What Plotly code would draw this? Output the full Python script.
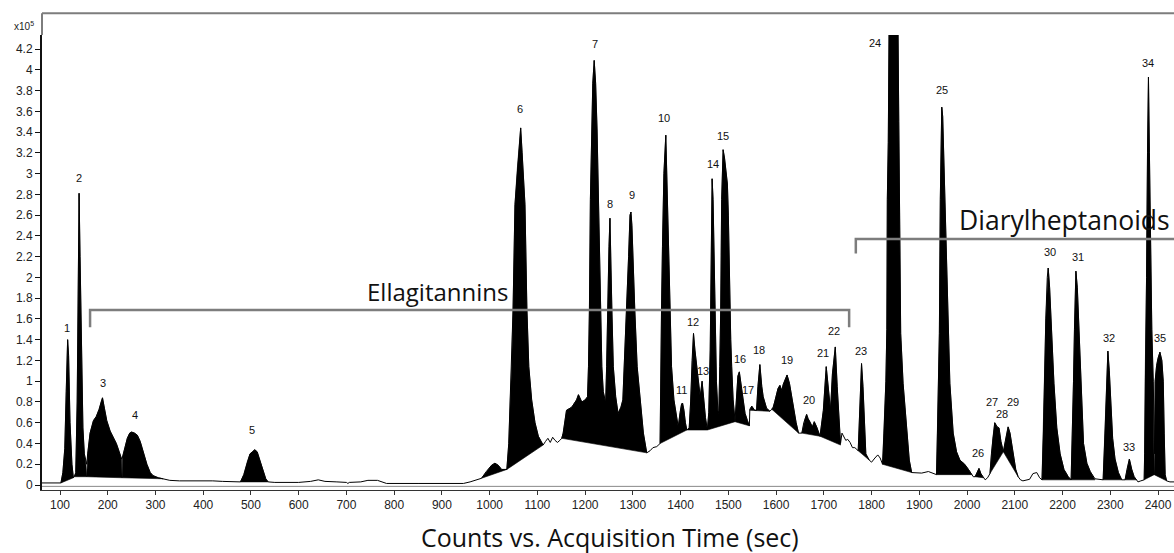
import plotly.graph_objects as go

# ---------------- data (counts in units of 1e5) ----------------
time_s = [
    62, 100, 102, 106, 110, 113, 116, 118, 121, 125, 128, 130, 133, 136, 138, 140, 142, 145, 148, 151, 154, 156,
    158, 163, 170, 176, 182, 186, 189, 193, 198, 205, 212, 218, 224, 229, 231, 236, 241, 246, 250, 256, 262, 268,
    275, 282, 289, 295, 306, 316, 330, 350, 380, 390, 396, 420, 440, 460, 478, 485, 492, 498, 503, 508, 513, 520,
    526, 531, 536, 550, 600, 625, 641, 655, 680, 700, 703, 706, 730, 745, 765, 775, 784, 850, 945, 959, 975, 983,
    993, 1004, 1011, 1018, 1025, 1030, 1036, 1040, 1043, 1046, 1049, 1053, 1058, 1062, 1065, 1068, 1070, 1074,
    1078, 1082, 1088, 1095, 1102, 1112, 1117, 1122, 1127, 1132, 1137, 1142, 1147, 1151, 1154, 1161, 1172, 1182,
    1186, 1193, 1200, 1205, 1207, 1209, 1211, 1214, 1216, 1219, 1222, 1225, 1228, 1232, 1235, 1238, 1243, 1245,
    1247, 1250, 1252, 1254, 1256, 1259, 1264, 1269, 1275, 1279, 1282, 1287, 1291, 1294, 1296, 1298, 1301, 1304,
    1309, 1315, 1322, 1329, 1336, 1342, 1350, 1357, 1358, 1360, 1362, 1365, 1369, 1371, 1372, 1375, 1378, 1381,
    1386, 1392, 1395, 1399, 1402, 1404, 1407, 1410, 1413, 1418, 1421, 1424, 1427, 1430, 1434, 1439, 1441, 1445,
    1448, 1452, 1456, 1459, 1462, 1464, 1466, 1468, 1470, 1472, 1475, 1478, 1480, 1482, 1484, 1486, 1488, 1489,
    1492, 1495, 1498, 1500, 1502, 1505, 1507, 1510, 1514, 1517, 1520, 1523, 1526, 1530, 1535, 1540, 1544, 1545,
    1549, 1555, 1559, 1562, 1566, 1570, 1573, 1580, 1587, 1591, 1594, 1597, 1604, 1608, 1612, 1615, 1623, 1628,
    1636, 1642, 1647, 1654, 1658, 1661, 1664, 1667, 1671, 1676, 1680, 1685, 1692, 1699, 1705, 1709, 1714, 1718,
    1724, 1728, 1731, 1735, 1738, 1741, 1746, 1750, 1755, 1760, 1765, 1772, 1774, 1776, 1779, 1782, 1785, 1788,
    1795, 1800, 1807, 1813, 1818, 1821, 1823, 1826, 1830, 1832, 1833, 1835, 1837, 1851, 1855, 1857, 1859, 1861,
    1866, 1874, 1879, 1884, 1895, 1905, 1919, 1929, 1936, 1938, 1940, 1942, 1944, 1945, 1946, 1947, 1949, 1951,
    1955, 1959, 1961, 1964, 1971, 1978, 1985, 1995, 2003, 2010, 2013, 2017, 2021, 2025, 2029, 2034, 2038, 2043,
    2048, 2051, 2054, 2058, 2063, 2067, 2071, 2076, 2080, 2086, 2090, 2096, 2102, 2107, 2112, 2117, 2131, 2138,
    2146, 2152, 2157, 2160, 2162, 2165, 2168, 2170, 2173, 2177, 2182, 2188, 2195, 2203, 2212, 2218, 2221, 2223,
    2225, 2227, 2228, 2231, 2235, 2239, 2244, 2251, 2258, 2268, 2285, 2289, 2292, 2295, 2298, 2301, 2305, 2310,
    2317, 2324, 2331, 2335, 2340, 2345, 2350, 2355, 2358, 2364, 2371, 2372, 2373, 2376, 2378, 2380, 2382, 2384,
    2387, 2390, 2392, 2393, 2394, 2397, 2400, 2404, 2408, 2411, 2413, 2415, 2418, 2425, 2434,
]
counts = [
    0.02, 0.02, 0.02, 0.12, 0.35, 0.9, 1.4, 1.25, 0.6, 0.2, 0.07, 0.08, 0.12, 0.8, 2.0, 2.81, 2.2, 1.2, 0.55, 0.3, 0.22, 0.2,
    0.3, 0.5, 0.62, 0.66, 0.73, 0.8, 0.84, 0.74, 0.62, 0.52, 0.46, 0.4, 0.32, 0.25, 0.27, 0.36, 0.45, 0.5, 0.51, 0.5, 0.48, 0.42,
    0.3, 0.2, 0.12, 0.09, 0.07, 0.06, 0.045, 0.04, 0.04, 0.045, 0.04, 0.04, 0.035, 0.03, 0.03, 0.1, 0.22, 0.3, 0.32, 0.34, 0.32, 0.22,
    0.12, 0.06, 0.03, 0.025, 0.025, 0.035, 0.05, 0.035, 0.03, 0.025, 0.015, 0.025, 0.03, 0.045, 0.045, 0.03, 0.015, 0.015, 0.015, 0.03, 0.055, 0.065,
    0.13, 0.19, 0.21, 0.19, 0.15, 0.15, 0.15, 0.4, 0.8, 1.14, 1.69, 2.7, 3.05, 3.3, 3.44, 3.2, 3.0, 2.7,
    1.7, 1.14, 0.82, 0.6, 0.47, 0.385, 0.42, 0.45, 0.41, 0.46, 0.43, 0.41, 0.43, 0.45, 0.5, 0.72, 0.75, 0.82,
    0.87, 0.8, 0.82, 0.85, 1.14, 1.7, 2.75, 3.42, 3.87, 4.09, 3.87, 3.42, 2.75, 1.69, 1.14, 0.9, 0.79, 1.14,
    1.7, 2.3, 2.57, 2.0, 1.69, 1.14, 0.85, 0.69, 0.75, 0.82, 1.14, 1.69, 2.2, 2.6, 2.63, 2.5, 2.0, 1.69,
    1.14, 0.82, 0.5, 0.31, 0.33, 0.36, 0.37, 0.40, 1.0, 1.69, 2.3, 3.0, 3.37, 3.0, 2.75, 2.2, 1.69, 1.14,
    0.82, 0.63, 0.56, 0.7, 0.78, 0.79, 0.72, 0.6, 0.53, 0.55, 0.8, 1.2, 1.46, 1.3, 1.14, 0.88, 0.85, 1.0,
    0.85, 0.65, 0.53, 0.7, 1.3, 2.2, 2.95, 2.75, 2.2, 1.69, 1.0, 0.72, 0.69, 1.14, 1.69, 2.75, 3.1, 3.23,
    3.15, 3.05, 2.9, 2.6, 1.9, 1.4, 1.14, 0.82, 0.62, 0.85, 1.05, 1.09, 1.0, 0.88, 0.69, 0.62, 0.57, 0.73,
    0.76, 0.72, 0.72, 0.95, 1.16, 0.95, 0.85, 0.74, 0.71, 0.73, 0.75, 0.8, 0.93, 0.96, 0.91, 0.97, 1.06, 0.98,
    0.75, 0.6, 0.5, 0.5, 0.6, 0.64, 0.68, 0.64, 0.61, 0.56, 0.61, 0.56, 0.47, 0.72, 1.14, 0.95, 0.72, 1.07,
    1.33, 0.95, 0.66, 0.40, 0.50, 0.47, 0.43, 0.44, 0.41, 0.36, 0.36, 0.33, 0.6, 0.9, 1.17, 0.95, 0.66, 0.3,
    0.24, 0.22, 0.26, 0.29, 0.26, 0.21, 0.2, 0.5, 1.0, 1.5, 2.75, 3.3, 4.6, 4.7, 4.6, 3.5, 2.75, 1.46,
    0.98, 0.5, 0.24, 0.12, 0.12, 0.115, 0.13, 0.11, 0.1, 0.5, 0.98, 1.46, 2.75, 3.2, 3.55, 3.64, 3.55, 3.2,
    2.75, 1.8, 1.46, 0.98, 0.5, 0.32, 0.24, 0.2, 0.15, 0.1, 0.08, 0.08, 0.12, 0.16, 0.11, 0.07, 0.05, 0.07,
    0.11, 0.3, 0.45, 0.6, 0.56, 0.55, 0.42, 0.32, 0.42, 0.56, 0.5, 0.3, 0.15, 0.08, 0.05, 0.04, 0.055, 0.11,
    0.12, 0.07, 0.05, 0.5, 1.0, 1.6, 2.0, 2.09, 1.9, 1.46, 0.98, 0.55, 0.3, 0.15, 0.08, 0.05, 0.5, 1.0,
    1.5, 1.95, 2.06, 1.9, 1.4, 0.9, 0.4, 0.21, 0.13, 0.06, 0.05, 0.5, 1.0, 1.29, 1.1, 0.8, 0.45, 0.25,
    0.12, 0.05, 0.05, 0.15, 0.25, 0.15, 0.08, 0.05, 0.03, 0.04, 0.05, 0.3, 1.0, 2.0, 3.2, 3.93, 3.2, 2.3,
    1.5, 1.0, 0.3, 0.3, 1.0, 1.15, 1.22, 1.28, 1.2, 1.0, 0.5, 0.1, 0.04, 0.03, 0.03,
]

# integrated peak windows (start time, end time, baseline at start, baseline at end)
win_start = [102, 130, 156, 230, 478, 983, 1036, 1151, 1357, 1413, 1456, 1514, 1545, 1591, 1654, 1692,
             1772, 1823, 1936, 2017, 2048, 2076, 2157, 2218, 2285, 2331, 2371, 2392]
win_end = [128, 156, 230, 316, 536, 1036, 1112, 1329, 1413, 1456, 1514, 1544, 1587, 1647, 1692, 1735,
           1795, 1884, 2010, 2034, 2076, 2107, 2218, 2268, 2324, 2355, 2392, 2418]
base_start = [0.02, 0.08, 0.08, 0.07, 0.03, 0.065, 0.15, 0.45, 0.40, 0.53, 0.53, 0.61, 0.72, 0.73, 0.5, 0.47,
              0.33, 0.2, 0.1, 0.08, 0.11, 0.32, 0.05, 0.05, 0.05, 0.05, 0.05, 0.1]
base_end = [0.07, 0.08, 0.07, 0.06, 0.03, 0.15, 0.385, 0.31, 0.53, 0.53, 0.61, 0.57, 0.71, 0.5, 0.47, 0.385,
            0.24, 0.12, 0.1, 0.07, 0.32, 0.08, 0.05, 0.05, 0.05, 0.05, 0.1, 0.04]

# peak number labels
peak_labels = [str(i) for i in range(1, 36)]
label_t = [115, 140, 191, 257, 503, 1064, 1221, 1252, 1298, 1365, 1401, 1426, 1447, 1468, 1489, 1524, 1541,
           1564, 1623, 1669, 1698, 1722, 1778, 1807, 1948, 2022, 2052, 2074, 2097, 2174, 2232, 2297, 2340,
           2380, 2404]
label_v = [1.51, 2.96, 0.98, 0.67, 0.53, 3.62, 4.25, 2.71, 2.79, 3.54, 0.92, 1.57, 1.10, 3.09, 3.36, 1.21, 0.92,
           1.30, 1.20, 0.82, 1.27, 1.48, 1.29, 4.26, 3.81, 0.31, 0.80, 0.68, 0.80, 2.24, 2.20, 1.42, 0.37,
           4.07, 1.42]

# compound class brackets
group_names = ["Ellagitannins", "Diarylheptanoids"]
group_t0 = [163, 1767]
group_t1 = [1753, 2434]
group_top = [1.685, 2.37]
group_tick = [1.52, 2.23]
group_text_t = [890, 2204]
group_text_v = [1.86, 2.55]
group_font = [24, 26.5]

x_ticks = list(range(100, 2401, 100))
y_ticks = [round(0.2 * i, 1) for i in range(0, 22)]
y_ticktext = [("%g" % v) for v in y_ticks]

X_RANGE = [62.3, 2433.5]
Y_RANGE = [-0.048, 4.335]

# ---------------- figure ----------------
fig = go.Figure()

# black integrated areas
px, py = [], []
for t0, t1, b0, b1 in zip(win_start, win_end, base_start, base_end):
    inner = [(t, c) for t, c in zip(time_s, counts) if t0 < t < t1]
    px += [t0] + [p[0] for p in inner] + [t1, t0, None]
    py += [b0] + [p[1] for p in inner] + [b1, b0, None]
fig.add_trace(go.Scatter(x=px, y=py, mode="lines", fill="toself", fillcolor="black",
                         line=dict(color="black", width=0.6), hoverinfo="skip", showlegend=False))

# chromatogram trace
fig.add_trace(go.Scatter(x=time_s, y=counts, mode="lines", line=dict(color="black", width=1),
                         hoverinfo="skip", showlegend=False))

annotations = []
for txt, t, v in zip(peak_labels, label_t, label_v):
    annotations.append(dict(x=t, y=v, xref="x", yref="y", text=txt, showarrow=False,
                            font=dict(family="Arial", size=11, color="#111"),
                            xanchor="center", yanchor="middle"))
for name, t, v, fs in zip(group_names, group_text_t, group_text_v, group_font):
    annotations.append(dict(x=t, y=v, xref="x", yref="y", text=name, showarrow=False,
                            font=dict(family="Open Sans", size=fs, color="#111"),
                            xanchor="center", yanchor="middle"))
annotations.append(dict(x=0.502, y=-0.103, xref="paper", yref="paper",
                        text="Counts vs. Acquisition Time (sec)", showarrow=False,
                        font=dict(family="Open Sans", size=25, color="#111"),
                        xanchor="center", yanchor="middle"))
annotations.append(dict(x=-0.005, y=1.02, xref="paper", yref="paper", text="x10<sup>5</sup>",
                        showarrow=False, font=dict(family="Arial", size=10, color="#222"),
                        xanchor="right", yanchor="middle"))

shapes = []
for t0, t1, top, tick in zip(group_t0, group_t1, group_top, group_tick):
    shapes.append(dict(type="path", xref="x", yref="y",
                       path=f"M {t0},{tick} L {t0},{top} L {t1},{top} L {t1},{tick}" if t1 < X_RANGE[1]
                       else f"M {t0},{tick} L {t0},{top} L {t1},{top}",
                       line=dict(color="#7d7d7d", width=2.5)))
# outer grey frame above the plot
shapes.append(dict(type="line", xref="paper", yref="paper", x0=0, x1=1, y0=1.048, y1=1.048,
                   line=dict(color="#7d7d7d", width=2)))
shapes.append(dict(type="line", xref="paper", yref="paper", x0=0, x1=0, y0=1.0, y1=1.048,
                   line=dict(color="#7d7d7d", width=2)))
# second line of the double x-axis
shapes.append(dict(type="line", xref="paper", yref="paper", x0=0, x1=1, y0=0.008, y1=0.008,
                   line=dict(color="#888", width=1)))

fig.update_layout(
    width=1174, height=553, autosize=False,
    margin=dict(l=42, r=0, t=35, b=63),
    plot_bgcolor="white", paper_bgcolor="white",
    annotations=annotations, shapes=shapes,
    xaxis=dict(range=X_RANGE, tickvals=x_ticks, ticks="outside", ticklen=4, tickcolor="#333",
               showline=True, linecolor="#333", linewidth=1, showgrid=False, zeroline=False,
               tickfont=dict(family="Arial", size=12, color="#222")),
    yaxis=dict(range=Y_RANGE, tickvals=y_ticks, ticktext=y_ticktext, ticks="outside", ticklen=5,
               tickcolor="#111", showline=True, linecolor="#111", linewidth=2, showgrid=False,
               zeroline=False, tickfont=dict(family="Arial", size=12, color="#222")),
)

fig.write_html("out.html", config={"displayModeBar": False},
               post_script="document.body.style.margin='0px';document.body.style.overflow='hidden';")
